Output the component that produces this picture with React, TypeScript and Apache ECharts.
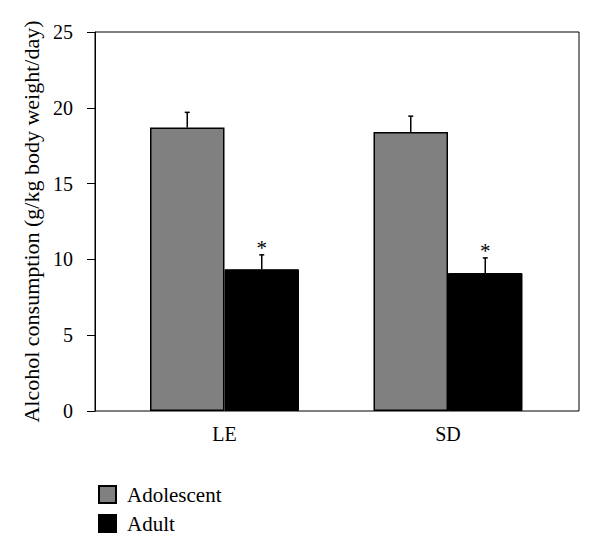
import React, { useEffect, useRef } from "react";
import * as echarts from "echarts";

const categories = ["LE", "SD"];
const adolescent = [18.7, 18.4];
const adolescentErr = [1.0, 1.05];
const adult = [9.35, 9.1];
const adultErr = [0.95, 1.0];
const adultSignificant = [true, true];
const yTicks = { min: 0, max: 25, interval: 5 };

const FONT = "'Liberation Serif', 'DejaVu Serif', serif";

export default function App() {
  const ref = useRef<HTMLDivElement>(null);
  useEffect(() => {
    if (!ref.current) return;
    const chart = echarts.init(ref.current, undefined, { renderer: "svg" });

    const errSeries = (vals: number[], errs: number[], side: number, stars?: boolean[]) => ({
      type: "custom",
      xAxisIndex: 1,
      yAxisIndex: 1,
      silent: true,
      z: 5,
      data: vals.map((v, i) => [i, v, errs[i], stars && stars[i] ? 1 : 0]),
      renderItem: (params: any, api: any) => {
        const cat = api.value(0);
        const v = api.value(1);
        const e = api.value(2);
        const star = api.value(3);
        const bw = api.size([1, 0])[0];
        const base = api.coord([cat, v]);
        const top = api.coord([cat, v + e]);
        const x = base[0] + (side * bw) / 6;
        const children: any[] = [
          { type: "line", shape: { x1: x, y1: base[1], x2: x, y2: top[1] }, style: { stroke: "#000", lineWidth: 1.5 } },
          { type: "line", shape: { x1: x - 2.5, y1: top[1], x2: x + 2.5, y2: top[1] }, style: { stroke: "#000", lineWidth: 1.5 } },
        ];
        if (star) {
          children.push({
            type: "text",
            style: { text: "*", x, y: top[1] + 4, align: "center", verticalAlign: "bottom", fontSize: 21, fontFamily: FONT, fill: "#000" },
          });
        }
        return { type: "group", children };
      },
    });

    chart.setOption({
      animation: false,
      backgroundColor: "#fff",
      grid: [
        { left: 95, right: 21, top: 32, bottom: 143, show: true, borderColor: "#000", borderWidth: 1, backgroundColor: "transparent" },
        { left: 112.75, right: 40.25, top: 32, bottom: 143 },
      ],
      xAxis: [
        { type: "value", gridIndex: 0, show: false, min: 0, max: 1 },
        {
          type: "category",
          gridIndex: 1,
          data: categories,
          axisLine: { show: false },
          axisTick: { show: false },
          axisLabel: { fontSize: 20, fontFamily: FONT, color: "#000", margin: 13 },
        },
      ],
      yAxis: [
        {
          type: "value",
          gridIndex: 0,
          min: yTicks.min,
          max: yTicks.max,
          interval: yTicks.interval,
          name: "Alcohol consumption (g/kg body weight/day)",
          nameLocation: "middle",
          nameGap: 50,
          nameTextStyle: { fontSize: 22, fontFamily: FONT, color: "#000" },
          axisLine: { show: true, lineStyle: { color: "#000", width: 1 } },
          axisTick: { show: true, length: 8, lineStyle: { color: "#000" } },
          axisLabel: { fontSize: 20, fontFamily: FONT, color: "#000", margin: 22 },
          splitLine: { show: false },
        },
        { type: "value", gridIndex: 1, min: yTicks.min, max: yTicks.max, interval: yTicks.interval, show: false },
      ],
      legend: {
        orient: "vertical",
        left: 93,
        top: 479,
        itemWidth: 17,
        itemHeight: 17,
        itemGap: 8,
        icon: "rect",
        textStyle: { fontSize: 21, fontFamily: FONT, color: "#000", padding: [0, 0, 0, 6] },
        data: ["Adolescent", "Adult"],
      },
      series: [
        {
          name: "Adolescent",
          type: "bar",
          xAxisIndex: 1,
          yAxisIndex: 1,
          data: adolescent,
          barWidth: "33.333%",
          barGap: "0%",
          itemStyle: { color: "#808080", borderColor: "#000", borderWidth: 1.5 },
        },
        {
          name: "Adult",
          type: "bar",
          xAxisIndex: 1,
          yAxisIndex: 1,
          data: adult,
          barWidth: "33.333%",
          barGap: "0%",
          itemStyle: { color: "#000", borderColor: "#000", borderWidth: 1 },
        },
        errSeries(adolescent, adolescentErr, -1),
        errSeries(adult, adultErr, 1, adultSignificant),
      ],
    });
    return () => chart.dispose();
  }, []);
  return <div ref={ref} style={{ width: 600, height: 554, margin: -8 }} />;
}
